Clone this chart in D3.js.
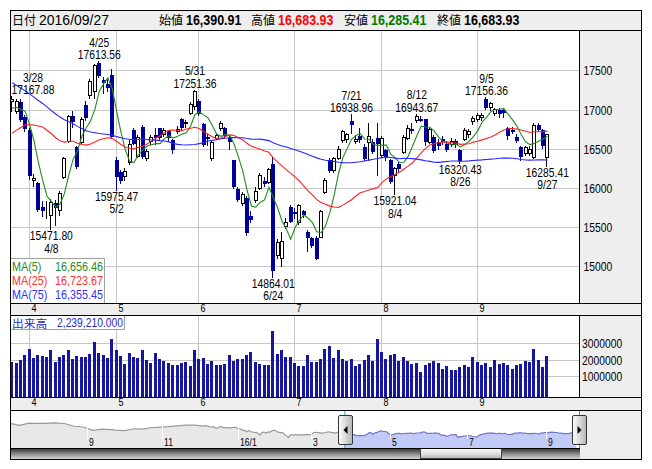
<!DOCTYPE html>
<html>
<head>
<meta charset="utf-8">
<script src="https://cdn.jsdelivr.net/npm/d3@7"></script>
<style>
  html, body { margin: 0; padding: 0; background: #fff; }
  svg { display: block; }
</style>
</head>
<body>
<svg id="chart" width="652" height="469"></svg>
<script>
// ---------- data: Nikkei 225 daily, 2016/03/28 - 2016/09/27 ----------
const year = 2016;
const days = [
  "3/28","3/29","3/30","3/31",
  "4/1","4/4","4/5","4/6","4/7","4/8","4/11","4/12","4/13","4/14","4/15","4/18","4/19","4/20","4/21","4/22","4/25","4/26","4/27","4/28",
  "5/2","5/6","5/9","5/10","5/11","5/12","5/13","5/16","5/17","5/18","5/19","5/20","5/23","5/24","5/25","5/26","5/27","5/30","5/31",
  "6/1","6/2","6/3","6/6","6/7","6/8","6/9","6/10","6/13","6/14","6/15","6/16","6/17","6/20","6/21","6/22","6/23","6/24","6/27","6/28","6/29","6/30",
  "7/1","7/4","7/5","7/6","7/7","7/8","7/11","7/12","7/13","7/14","7/15","7/19","7/20","7/21","7/22","7/25","7/26","7/27","7/28","7/29",
  "8/1","8/2","8/3","8/4","8/5","8/8","8/9","8/10","8/12","8/15","8/16","8/17","8/18","8/19","8/22","8/23","8/24","8/25","8/26","8/29","8/30","8/31",
  "9/1","9/2","9/5","9/6","9/7","9/8","9/9","9/12","9/13","9/14","9/15","9/16","9/20","9/21","9/23","9/26","9/27"
];
const opens = [
  17105,16985,17100,16900,
  16735,16100,16060,15760,15740,15650,15805,15720,16140,16600,16920,16520,16580,17060,17180,17230,17590,17380,17320,17440,
  16360,16200,16150,16330,16740,16410,16780,16380,16600,16680,16760,16690,16720,16610,16730,16880,16830,16960,17040,
  17110,16810,16650,16380,16640,16760,16770,16640,16350,15990,15810,15870,15640,15850,16000,16090,16080,16310,15140,15110,15520,15760,
  15690,15560,15700,15440,15360,15360,15380,15950,16350,16230,16380,16610,16620,16850,16600,16660,16520,16590,16580,16640,
  16420,16480,16350,16160,16300,16460,16640,16750,16860,16880,16875,16590,16650,16580,16620,16560,16560,16600,16480,16630,16690,16850,
  16880,16900,17140,17030,16960,17000,16990,16760,16740,16650,16520,16440,16440,16400,16800,16740,16390.91
];
const highs = [
  17167.88,17130,17140,16930,
  16760,16180,16080,15830,15830,15860,15850,15960,16400,16930,16980,16530,16900,17110,17390,17580,17613.56,17420,17380,17520,
  16400,16230,16260,16610,16760,16680,16800,16490,16680,16760,16770,16760,16740,16630,16790,16890,16860,17090,17251.36,
  17130,16830,16690,16600,16700,16850,16780,16660,16360,16010,15950,15900,15700,16010,16190,16140,16250,16390,15350,15440,15610,15780,
  15740,15800,15720,15460,15380,15390,15720,16130,16380,16400,16530,16740,16700,16938.96,16680,16760,16560,16830,16620,16830,
  16660,16500,16370,16270,16330,16670,16800,16830,16943.67,16920,16880,16760,16670,16620,16660,16600,16640,16620,16500,16760,16750,16920,
  16960,16950,17156.36,17100,17020,17020,17010,16780,16780,16690,16530,16530,16540,16830,16830,16750,16683.93
];
const lows = [
  16975,16960,16850,16730,
  16112,16030,15700,15640,15610,15471.80,15530,15650,16120,16580,16780,16250,16560,16860,17150,17150,17410,17210,17230,16640,
  15975.47,16060,16100,16300,16560,16400,16380,16350,16560,16560,16620,16660,16600,16440,16700,16740,16780,16940,17010,
  16930,16530,16550,16350,16620,16740,16650,16500,16000,15830,15780,15395,15570,15820,15990,16030,16060,14864.01,15100,15000,15490,15560,
  15620,15540,15630,15200,15250,15090,15370,15930,16200,16200,16370,16590,16590,16700,16570,16590,16360,16360,16440,16170,
  16400,16360,16060,15921.04,16220,16440,16620,16700,16840,16850,16550,16570,16460,16500,16560,16470,16540,16520,16320.43,16610,16650,16820,
  16850,16870,17010,17000,16930,16900,16900,16620,16700,16590,16350,16420,16420,16380,16720,16510,16285.41
];
const closes = [
  17134.37,17103.53,16878.96,16758.67,
  16164.16,16123.27,15732.82,15715.36,15749.84,15821.52,15751.13,15928.79,16381.22,16911.05,16848.03,16275.95,16874.44,16906.54,17363.62,17572.49,17439.30,17353.28,17290.49,16666.05,
  16147.38,16106.72,16216.03,16565.19,16579.01,16646.34,16412.21,16466.40,16652.80,16644.69,16646.66,16736.35,16654.60,16498.76,16757.35,16772.46,16834.84,17068.02,17234.98,
  16955.73,16562.55,16642.23,16580.03,16675.45,16830.92,16668.41,16601.36,16019.18,15859.00,15919.58,15434.14,15599.66,15965.30,16169.11,16065.72,16238.35,14952.02,15309.21,15323.14,15566.83,15575.92,
  15682.48,15775.80,15669.33,15378.99,15276.24,15106.98,15708.82,16095.65,16231.43,16385.89,16497.85,16723.31,16681.89,16810.22,16627.25,16620.29,16383.04,16664.82,16476.84,16569.27,
  16635.77,16391.45,16083.11,16254.45,16254.89,16650.57,16764.97,16735.12,16919.92,16869.56,16596.51,16745.64,16486.01,16545.82,16598.19,16497.36,16597.30,16555.95,16360.71,16737.49,16725.36,16887.40,
  16926.84,16925.68,17037.64,17081.98,17012.44,16958.77,16965.76,16672.92,16729.04,16614.24,16405.01,16519.29,16492.15,16807.62,16754.02,16544.56,16683.93
];
const volumes = [
  1871000,1812000,1970000,2267000,
  2624000,2089000,2267000,2208000,2149000,2564000,1871000,2149000,2267000,2564000,2030000,2208000,2149000,2149000,2327000,3040000,2386000,2267000,2089000,3218000,
  2564000,2208000,1752000,2386000,2149000,2089000,2564000,1970000,1812000,2386000,2030000,1911000,1812000,1693000,1693000,1812000,1871000,1634000,2564000,
  2030000,2089000,1752000,1911000,1693000,1693000,1752000,2267000,1911000,2030000,2030000,2267000,2446000,1871000,1752000,1693000,1693000,3713000,2327000,2564000,2149000,2149000,
  1812000,1614000,1614000,2267000,1871000,1871000,2030000,2624000,2802000,2089000,2564000,2030000,1911000,2030000,1614000,1752000,1970000,2267000,1911000,3218000,
  2446000,2030000,2267000,2327000,1911000,2149000,1911000,1752000,1812000,1277000,1693000,1812000,1911000,1812000,1436000,1614000,1376000,1376000,1554000,1693000,1554000,2149000,
  1871000,1693000,1812000,1554000,1970000,1752000,1812000,1693000,1436000,1693000,1752000,1911000,1871000,2624000,1970000,1554000,2239210
];
// closes of the 74 sessions before 3/28 (2015/12/07 - 2016/03/25), used by the moving averages
const priorCloses = [
  19698.15,19492.60,19301.07,19046.55,19230.48,18883.42,18565.90,19049.91,19353.56,18986.80,18916.02,18886.70,18789.69,18769.06,18873.35,18982.23,19033.71,
  18450.98,18374.00,18191.32,17767.34,17697.96,17218.96,17715.63,17240.95,17147.11,16955.57,17048.37,16416.19,16017.26,16958.53,17110.91,16708.90,17163.92,17041.45,17518.30,
  17865.23,17750.68,17191.25,17044.99,16819.59,17004.30,16085.44,15713.39,14952.61,16022.58,16054.43,15836.36,16196.76,15967.17,16111.05,16052.05,15915.79,16140.34,16188.41,16026.76,
  16085.51,16746.55,16960.16,17014.78,16911.32,16783.15,16642.20,16852.35,16938.87,17233.75,17117.07,16974.45,16936.38,16724.81,17048.55,17000.98,16892.33,17002.75
];
// weekly closes for the navigator before the daily series starts
const navWeekDates = [
  "2015-07-03","2015-07-10","2015-07-17","2015-07-24","2015-07-31","2015-08-07","2015-08-14","2015-08-21","2015-08-28",
  "2015-09-04","2015-09-11","2015-09-18","2015-09-25","2015-10-02","2015-10-09","2015-10-16","2015-10-23","2015-10-30",
  "2015-11-06","2015-11-13","2015-11-20","2015-11-27","2015-12-04"
];
const navWeekCloses = [
  20539.79,19779.83,20650.92,20544.53,20585.24,20724.56,20519.45,19435.83,19136.32,
  17792.16,18264.22,18070.21,17880.51,17725.13,18438.67,18291.80,18825.30,19083.10,
  19265.60,19596.91,19879.81,19883.94,19504.48
];
const holidays = [
  "2015-07-20","2015-09-21","2015-09-22","2015-09-23","2015-10-12","2015-11-03","2015-11-23","2015-12-23","2015-12-31",
  "2016-01-01","2016-01-11","2016-02-11","2016-03-21","2016-04-29","2016-05-03","2016-05-04","2016-05-05",
  "2016-07-18","2016-08-11","2016-09-19","2016-09-22"
];
const priceTicks = [15000, 15500, 16000, 16500, 17000, 17500];
const volumeTicks = [1000000, 2000000, 3000000];
const highMarks = ["3/28", "4/25", "5/31", "7/21", "8/12", "9/5"];
const lowMarks = ["4/8", "5/2", "6/24", "8/4", "8/26", "9/27"];
const maPeriods = [5, 25, 75];
const maColors = ["#228b22", "#ff2222", "#2626ff"];
const maTextColors = ["#1f8a1f", "#ff3030", "#3030ff"];

// ---------- layout ----------
const L = 10, R = 641, PR = 580;
const T = 10, HB = 30, PB = 303, VT = 315, VB = 397, NT = 410, NB = 448, B = 459;
const slots = 131;
const GRID = "#c8c8c8", PANEL = "#eeeeee", BLUE = "#000099";
const LATIN = "'Liberation Sans', Arial, sans-serif";
const CJK = "'Noto Sans CJK JP', sans-serif";

const svg = d3.select("#chart");
const defs = svg.append("defs");

function txt(parent, x, y, s, o = {}) {
  const sx = o.sx ?? 0.86;
  const t = parent.append("text")
    .attr("transform", `translate(${x},${y}) scale(${sx},1)`)
    .attr("text-anchor", o.anchor || "start")
    .style("font-family", o.font || LATIN)
    .style("font-size", (o.size || 12) + "px")
    .attr("fill", o.fill || "#000")
    .text(s);
  if (o.weight) t.style("font-weight", o.weight);
  return t;
}
function hline(g, x1, x2, y, stroke) {
  g.append("line").attr("x1", x1).attr("x2", x2).attr("y1", y + 0.5).attr("y2", y + 0.5)
    .attr("stroke", stroke).attr("shape-rendering", "crispEdges");
}
function vline(g, x, y1, y2, stroke) {
  g.append("line").attr("x1", x + 0.5).attr("x2", x + 0.5).attr("y1", y1).attr("y2", y2)
    .attr("stroke", stroke).attr("shape-rendering", "crispEdges");
}

// ---------- scales ----------
const x = d3.scaleBand().domain(d3.range(slots)).range([L, PR]);
const cx = i => x(i) + x.bandwidth() / 2;
const px = i => Math.round(cx(i));
const yP = d3.scaleLinear().domain([14532, 18014]).range([PB, HB]);
const yV = d3.scaleLinear().domain([-230000, 4650000]).range([VB, VT]);

const monthOf = s => +s.split("/")[0];
const monthStarts = d3.range(1, days.length).filter(i => monthOf(days[i]) !== monthOf(days[i - 1]));

// ---------- backgrounds ----------
const bg = svg.append("g").attr("shape-rendering", "crispEdges");
bg.append("rect").attr("width", 652).attr("height", 469).attr("fill", "#fff");
bg.append("rect").attr("x", L).attr("y", T).attr("width", R - L).attr("height", HB - T).attr("fill", PANEL);
bg.append("rect").attr("x", PR).attr("y", HB).attr("width", R - PR).attr("height", PB - HB).attr("fill", PANEL);
bg.append("rect").attr("x", L).attr("y", PB).attr("width", R - L).attr("height", VT - PB).attr("fill", PANEL);
bg.append("rect").attr("x", PR).attr("y", VT).attr("width", R - PR).attr("height", VB - VT).attr("fill", PANEL);
bg.append("rect").attr("x", L).attr("y", VB).attr("width", R - L).attr("height", NT - VB).attr("fill", PANEL);
bg.append("rect").attr("x", PR).attr("y", NT).attr("width", R - PR).attr("height", B - NT).attr("fill", PANEL);

// ---------- header ----------
const last = days.length - 1;
const fmt2 = d3.format(",.2f");
const hdr = svg.append("g");
const [mm, dd] = days[last].split("/");
txt(hdr, 12, 25, "日付", { font: CJK, size: 12, sx: 1 });
txt(hdr, 39, 25, `${year}/${mm.padStart(2, "0")}/${dd.padStart(2, "0")}`, { size: 14, sx: 1 });
const hdrItems = [
  { label: "始値", value: opens[last], color: "#000", at: 159 },
  { label: "高値", value: highs[last], color: "#ff0000", at: 251 },
  { label: "安値", value: lows[last], color: "#007a00", at: 344 },
  { label: "終値", value: closes[last], color: "#000", at: 437 }
];
hdrItems.forEach(h => {
  txt(hdr, h.at, 25, h.label, { font: CJK, size: 12, sx: 1 });
  txt(hdr, h.at + 27, 25, fmt2(h.value), { size: 14, sx: 0.89, weight: "bold", fill: h.color });
});

// ---------- clip paths ----------
defs.append("clipPath").attr("id", "clipPrice").append("rect")
  .attr("x", L).attr("y", HB).attr("width", PR - L).attr("height", PB - HB);
defs.append("clipPath").attr("id", "clipVol").append("rect")
  .attr("x", L).attr("y", VT).attr("width", PR - L).attr("height", VB - VT);

// ---------- price panel ----------
const gP = svg.append("g");
priceTicks.forEach(v => hline(gP, L, PR, Math.round(yP(v)), GRID));
monthStarts.forEach(i => vline(gP, px(i) - 1, HB, PB, GRID));

const candles = gP.append("g").attr("clip-path", "url(#clipPrice)").attr("shape-rendering", "crispEdges");
const idx = d3.range(days.length);
const isUp = i => closes[i] >= opens[i];
candles.selectAll("line.wick").data(idx).join("line").attr("class", "wick")
  .attr("x1", i => px(i) - 0.5).attr("x2", i => px(i) - 0.5)
  .attr("y1", i => Math.round(yP(highs[i]))).attr("y2", i => Math.round(yP(lows[i])) + 1)
  .attr("stroke", i => isUp(i) ? "#000" : BLUE);
candles.selectAll("rect.body").data(idx).join("rect").attr("class", "body")
  .attr("x", i => px(i) - 1.5)
  .attr("y", i => Math.round(yP(Math.max(opens[i], closes[i]))) + 0.5)
  .attr("width", 3)
  .attr("height", i => Math.max(0, Math.round(yP(Math.min(opens[i], closes[i]))) - Math.round(yP(Math.max(opens[i], closes[i])))))
  .attr("fill", i => isUp(i) ? "#fff" : BLUE)
  .attr("stroke", i => isUp(i) ? "#000" : BLUE);

// moving averages
const allCloses = priorCloses.concat(closes);
const off = priorCloses.length;
const maSeries = maPeriods.map(n => closes.map((_, i) => d3.mean(allCloses.slice(off + i - n + 1, off + i + 1))));
const lineGen = d3.line().x((d, i) => cx(i)).y(d => yP(d));
const maG = gP.append("g").attr("clip-path", "url(#clipPrice)");
maSeries.forEach((s, k) => {
  maG.append("path").attr("d", lineGen(s)).attr("fill", "none")
    .attr("stroke", maColors[k]).attr("stroke-width", 1.1);
});

// high / low annotations
const fmtP = d3.format(".2f");
const annG = gP.append("g");
function annotate(day, isHigh) {
  const i = days.indexOf(day);
  const v = isHigh ? highs[i] : lows[i];
  const y = yP(v);
  const tmp = [txt(annG, 0, 0, day), txt(annG, 0, 0, fmtP(v))];
  const w = d3.max(tmp, t => t.node().getComputedTextLength()) * 0.86;
  tmp.forEach(t => t.remove());
  const c = Math.max(L + 1.5 + w / 2, Math.min(PR - 2 - w / 2, cx(i)));
  if (isHigh) {
    txt(annG, c, y - 14.5, day, { anchor: "middle" });
    txt(annG, c, y - 2, fmtP(v), { anchor: "middle" });
  } else {
    txt(annG, c, y + 11, fmtP(v), { anchor: "middle" });
    txt(annG, c, y + 23.5, day, { anchor: "middle" });
  }
}
highMarks.forEach(d => annotate(d, true));
lowMarks.forEach(d => annotate(d, false));

// price axis labels
priceTicks.forEach(v => txt(gP, 583.5, Math.round(yP(v)) + 5, String(v)));

// moving average legend
const lg = svg.append("g");
lg.append("rect").attr("x", L + 0.5).attr("y", 258.5).attr("width", 94).attr("height", PB - 258.5)
  .attr("fill", "#fff").attr("stroke", "#a0a0a0").attr("shape-rendering", "crispEdges");
maPeriods.forEach((n, k) => {
  const yy = 270.5 + k * 14;
  txt(lg, 12, yy, `MA(${n})`, { fill: maTextColors[k], sx: 0.9 });
  txt(lg, 103, yy, fmt2(maSeries[k][last]), { fill: maTextColors[k], sx: 0.9, anchor: "end" });
});

// ---------- month bands ----------
const bandG = svg.append("g");
[PB, VB].forEach(top => {
  monthStarts.forEach(i => txt(bandG, px(i) + 1.5, top + 8.5, String(monthOf(days[i])), { size: 10.5 }));
});

// ---------- volume panel ----------
const gV = svg.append("g");
volumeTicks.forEach(v => hline(gV, L, PR, Math.round(yV(v)), GRID));
monthStarts.forEach(i => vline(gV, px(i) - 1, VT, VB, GRID));
gV.append("g").attr("clip-path", "url(#clipVol)").attr("shape-rendering", "crispEdges")
  .selectAll("rect").data(idx).join("rect")
  .attr("x", i => px(i) - 2).attr("width", 3)
  .attr("y", i => Math.round(yV(volumes[i])))
  .attr("height", i => VB - Math.round(yV(volumes[i])))
  .attr("fill", "#16169e");
volumeTicks.forEach(v => txt(gV, 582, Math.round(yV(v)) + 5, String(v)));
const vb = svg.append("g");
vb.append("rect").attr("x", L + 0.5).attr("y", VT + 0.5).attr("width", 114).attr("height", 14)
  .attr("fill", "#fff").attr("stroke", "#a0a0a0").attr("shape-rendering", "crispEdges");
txt(vb, 12, 327.5, "出来高", { font: CJK, size: 11.5, sx: 1.02, fill: "#2b2bc0" });
txt(vb, 123, 327, d3.format(",.3f")(volumes[last]), { anchor: "end", fill: "#2b2bc0" });

// ---------- navigator ----------
const fmtKey = d3.timeFormat("%Y-%m-%d");
const holidaySet = new Set(holidays);
const navCal = d3.timeDay.range(new Date(2015, 6, 3), new Date(2016, 8, 28))
  .filter(d => d.getDay() !== 0 && d.getDay() !== 6 && !holidaySet.has(fmtKey(d)));
const calIndex = new Map(navCal.map((d, i) => [fmtKey(d), i]));
const navPoints = navWeekDates.map((d, k) => ({ i: calIndex.get(d), v: navWeekCloses[k] }))
  .concat(allCloses.map((v, k) => ({ i: navCal.length - allCloses.length + k, v })));
const xN = d3.scaleLinear().domain([0, navCal.length + 1]).range([L, PR]);
const yN = d3.scaleLinear().domain([14000, 21500]).range([440, 421]);
const selStart = xN(navCal.length - days.length);

defs.append("clipPath").attr("id", "clipNav").append("rect")
  .attr("x", L).attr("y", NT).attr("width", PR - L).attr("height", NB - NT);
defs.append("clipPath").attr("id", "clipSel").append("rect")
  .attr("x", selStart).attr("y", NT).attr("width", PR - selStart).attr("height", NB - NT);

const gN = svg.append("g").attr("clip-path", "url(#clipNav)");
const navArea = d3.area().x(d => xN(d.i)).y0(NB).y1(d => yN(d.v));
const navLine = d3.line().x(d => xN(d.i)).y(d => yN(d.v));
gN.append("path").attr("d", navArea(navPoints)).attr("fill", "#e8e8e8");
gN.append("path").attr("d", navLine(navPoints)).attr("fill", "none").attr("stroke", "#9a9a9a").attr("stroke-width", 1.2);
const sel = gN.append("g").attr("clip-path", "url(#clipSel)");
sel.append("rect").attr("x", selStart).attr("y", NT).attr("width", PR - selStart).attr("height", NB - NT).attr("fill", "#fff");
sel.append("path").attr("d", navArea(navPoints)).attr("fill", "#c2cbf8");
sel.append("path").attr("d", navLine(navPoints)).attr("fill", "none").attr("stroke", "#7676c8").attr("stroke-width", 1.2);

const navTicks = d3.range(1, navCal.length)
  .filter(i => navCal[i].getMonth() !== navCal[i - 1].getMonth() && navCal[i].getMonth() % 2 === 0);
navTicks.forEach(i => {
  const xx = Math.round(xN(i));
  vline(gN, xx, NT, 439, "#fff");
  const d = navCal[i];
  const lab = d.getMonth() === 0 ? `${String(d.getFullYear()).slice(2)}/1` : String(d.getMonth() + 1);
  txt(gN, xx + 2, 445.5, lab, { size: 10 });
});

// selection edges and handles
const hg = svg.append("g");
[selStart, PR - 0.5].forEach(xx => {
  hg.append("line").attr("x1", xx).attr("x2", xx).attr("y1", NT).attr("y2", NB)
    .attr("stroke", "#2aa0d8").attr("stroke-width", 1);
});
const hgrad = defs.append("linearGradient").attr("id", "handleGrad").attr("x1", 0).attr("x2", 1).attr("y1", 0).attr("y2", 0);
hgrad.append("stop").attr("offset", "0%").attr("stop-color", "#ffffff");
hgrad.append("stop").attr("offset", "100%").attr("stop-color", "#b4b4b4");
[{ c: selStart, dir: -1 }, { c: PR - 1, dir: 1 }].forEach(h => {
  hg.append("rect").attr("x", Math.round(h.c) - 6.5).attr("y", 415.5).attr("width", 14).attr("height", 29)
    .attr("rx", 1.5).attr("fill", "url(#handleGrad)").attr("stroke", "#333");
  const ax = Math.round(h.c) + 0.5;
  const pts = h.dir < 0
    ? [[ax - 2, 430], [ax + 2, 426], [ax + 2, 434]]
    : [[ax + 2, 430], [ax - 2, 426], [ax - 2, 434]];
  hg.append("polygon").attr("points", pts.map(p => p.join(",")).join(" ")).attr("fill", "#000");
});

// scrollbar
const sgrad = defs.append("linearGradient").attr("id", "scrollGrad").attr("x1", 0).attr("x2", 0).attr("y1", 0).attr("y2", 1);
sgrad.append("stop").attr("offset", "0%").attr("stop-color", "#2a2a2a");
sgrad.append("stop").attr("offset", "55%").attr("stop-color", "#8c8c8c");
sgrad.append("stop").attr("offset", "100%").attr("stop-color", "#d4d4d4");
const tgrad = defs.append("linearGradient").attr("id", "thumbGrad").attr("x1", 0).attr("x2", 0).attr("y1", 0).attr("y2", 1);
tgrad.append("stop").attr("offset", "0%").attr("stop-color", "#fbfbfb");
tgrad.append("stop").attr("offset", "60%").attr("stop-color", "#dadada");
tgrad.append("stop").attr("offset", "100%").attr("stop-color", "#b0b0b0");
const sb = svg.append("g").attr("shape-rendering", "crispEdges");
sb.append("rect").attr("x", L).attr("y", NB).attr("width", PR - L).attr("height", B - NB).attr("fill", "url(#scrollGrad)");
sb.append("rect").attr("x", 420.5).attr("y", NB + 0.5).attr("width", 81).attr("height", B - NB - 1)
  .attr("fill", "url(#thumbGrad)").attr("stroke", "#444");

// ---------- frame ----------
const fr = svg.append("g");
hline(fr, L, R + 1, T, "#000");
hline(fr, L, R + 1, HB, "#000");
hline(fr, L, R + 1, PB, "#000");
hline(fr, L, R + 1, VT, "#000");
hline(fr, L, R + 1, VB, "#000");
hline(fr, L, R + 1, NT, "#000");
hline(fr, L, PR, NB, "#000");
hline(fr, L, R + 1, B, "#000");
vline(fr, L, T, B + 1, "#000");
vline(fr, R, T, B + 1, "#000");
vline(fr, PR - 1, HB, PB, "#000");
vline(fr, PR - 1, VT, VB, "#000");
</script>
</body>
</html>
